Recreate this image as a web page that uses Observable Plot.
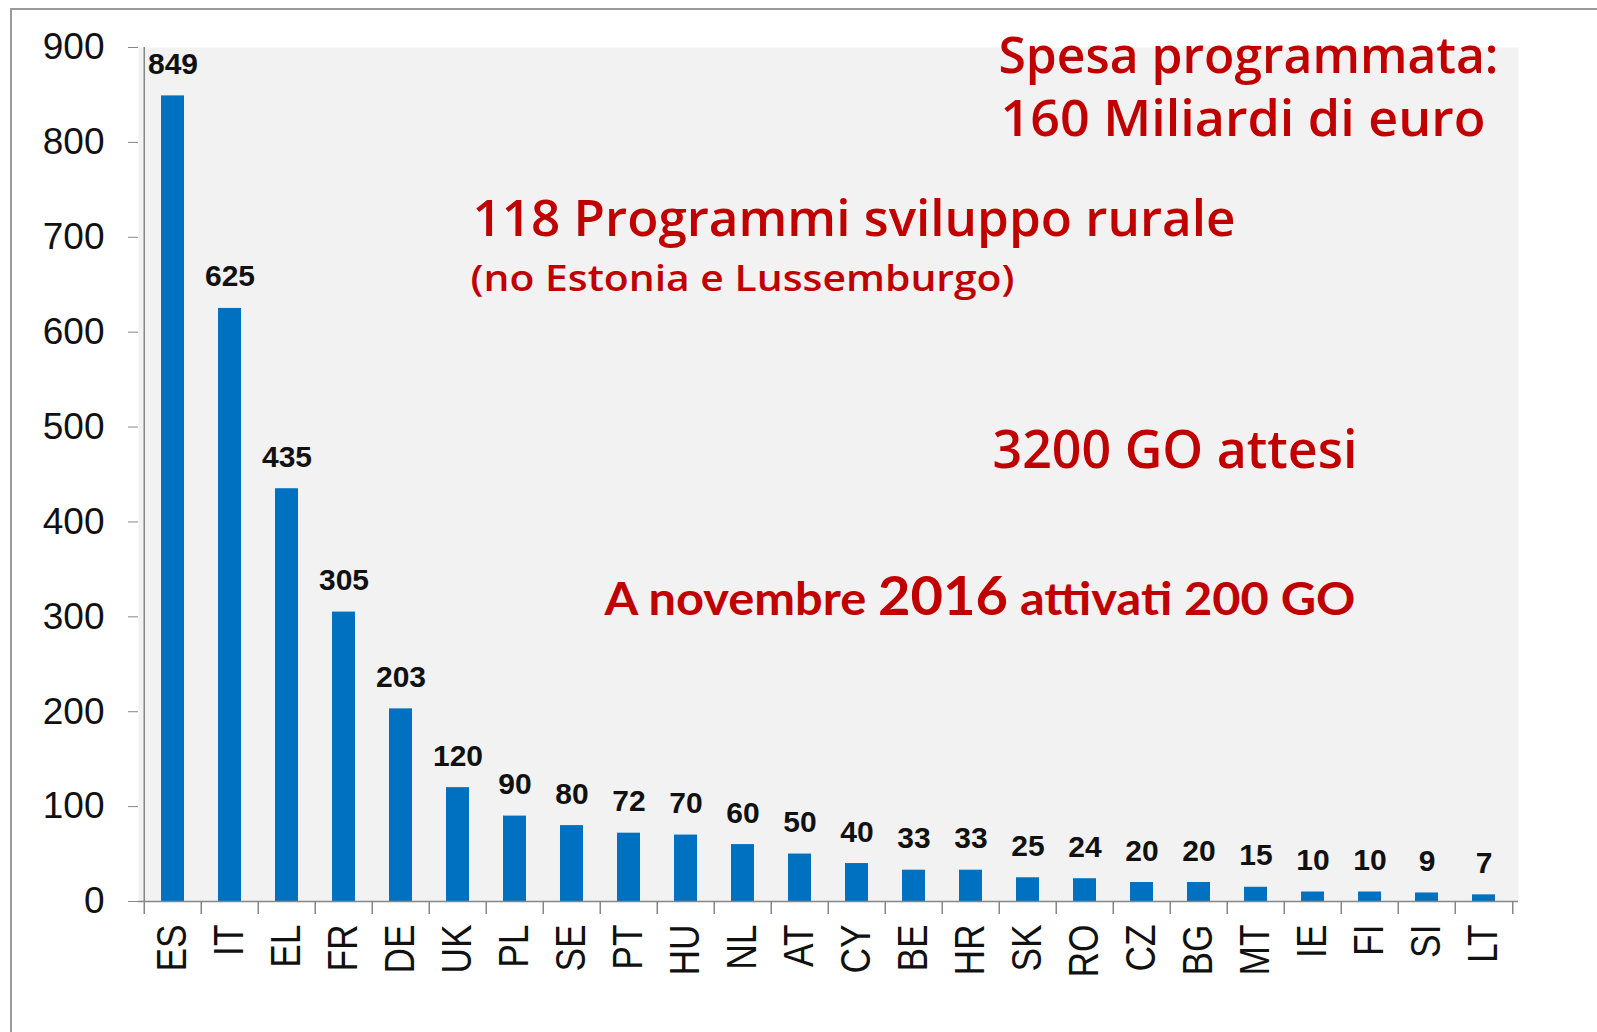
<!DOCTYPE html>
<html><head><meta charset="utf-8">
<script src="https://cdn.jsdelivr.net/npm/d3@7"></script>
<script src="https://cdn.jsdelivr.net/npm/@observablehq/plot@0.6"></script>
<style>
html,body{margin:0;padding:0;background:#fff;}
#wrap{position:relative;width:1597px;height:1032px;overflow:hidden;background:#fff;}
#border{position:absolute;left:10px;top:8px;width:1600px;height:1100px;border-top:2px solid #9a9a9a;border-left:2px solid #9a9a9a;pointer-events:none;}
svg{display:block;}
</style></head><body>
<div id="wrap"><div id="border"></div></div>
<script>
// ---- data ----
const countries = ["ES","IT","EL","FR","DE","UK","PL","SE","PT","HU","NL","AT","CY","BE","HR","SK","RO","CZ","BG","MT","IE","FI","SI","LT"];
const values = [849,625,435,305,203,120,90,80,72,70,60,50,40,33,33,25,24,20,20,15,10,10,9,7];
const yTicks = [0,100,200,300,400,500,600,700,800,900];
const noteLines = ["Spesa programmata:","160 Miliardi di euro","118 Programmi sviluppo rurale","(no Estonia e Lussemburgo)","3200 GO attesi","A novembre 2016 attivati 200 GO"];
const notePieces = ["A novembre ","2016"," attivati 200 GO"];

const data = countries.map((c,i)=>({country:c, value:values[i]}));

// ---- layout ----
const W=1597, H=1032, mL=138, mR=79, mT=47, mB=131;
const step = (W-mL-mR)/countries.length;
const red = "#c00000";
const noteLayout = [
  {dx:860, dy:25, size:51, font:"'Open Sans', sans-serif", weight:600, w:500},
  {dx:862, dy:88, size:51, font:"'Open Sans', sans-serif", weight:600, w:485},
  {dx:334, dy:188, size:50, font:"'Open Sans', sans-serif", weight:600, w:763},
  {dx:332, dy:243, size:36, font:"'Open Sans', sans-serif", weight:600, w:544},
  {dx:854, dy:420, size:53, font:"'Open Sans', sans-serif", weight:600, w:365},
  {dx:466, dy:567, size:46, font:"Lato, sans-serif", weight:700, w:751}
];

const noteMarks = noteLines.map((t,i)=>{
  const L = noteLayout[i];
  return Plot.text([t], {text:d=>d, frameAnchor:"top-left", dx:L.dx, dy:L.dy, textAnchor:"start", lineAnchor:"bottom",
    fontSize:L.size, fontFamily:L.font, fontWeight:L.weight, fill:red});
});

const chart = Plot.plot({
  width:W, height:H, marginLeft:mL, marginRight:mR, marginTop:mT, marginBottom:mB,
  style:{background:"transparent", fontFamily:"'Liberation Sans', Arial, sans-serif", color:"#000", overflow:"visible"},
  x:{domain:countries, paddingInner:0.6, paddingOuter:0.3, label:null},
  y:{domain:[0,900], label:null},
  marks:[
    Plot.frame({fill:"#f2f2f2", stroke:null}),
    Plot.barY(data,{x:"country", y:"value", fill:"#0070c0"}),
    Plot.text(data,{x:"country", y:"value", text:d=>String(d.value), lineAnchor:"bottom", dy:-22,
      fontSize:30, fontWeight:"bold", fill:"#111", fontFamily:"'Liberation Sans', Arial, sans-serif"}),
    // axis lines
    Plot.ruleY([0], {stroke:"#868686", strokeWidth:1.5}),
    Plot.ruleX([countries[0]], {dx:-step/2, y1:0, y2:900, stroke:"#868686", strokeWidth:1.5}),
    // boundary ticks on x
    Plot.ruleX(countries, {dx:-step/2, y1:0, y2:0, insetTop:0, insetBottom:-13, stroke:"#868686", strokeWidth:1.5}),
    Plot.ruleX([countries[countries.length-1]], {dx:step/2, y1:0, y2:0, insetTop:0, insetBottom:-13, stroke:"#868686", strokeWidth:1.5}),
    Plot.axisY({ticks:yTicks, tickSize:10, tickPadding:24, fontSize:37, stroke:"#868686", fill:"#111", label:null}),
    Plot.axisX({tickSize:0, tickRotate:-90, tickPadding:23, fontSize:38, fill:"#111", label:null}),
    ...noteMarks
  ]
});

document.getElementById("wrap").prepend(chart);
const svg = d3.select(chart);

// stretch x tick labels like the original
svg.selectAll("g[aria-label='x-axis tick label'] text").each(function(){
  const t = this.getAttribute("transform") || "";
  this.setAttribute("transform", t + " scale(0.93,1.1)");
});

// annotation fitting
svg.selectAll("text").each(function(){
  const idx = noteLines.indexOf(this.textContent);
  if (idx < 0) return;
  const L = noteLayout[idx];
  if (idx === 5) {
    const el = d3.select(this);
    el.text(null);
    const sizes = [L.size, L.size*1.15, L.size];
    notePieces.forEach((p,j)=>{ el.append("tspan").attr("font-size", sizes[j]).text(p); });
  }
  this.setAttribute("textLength", L.w);
  this.setAttribute("lengthAdjust", "spacingAndGlyphs");
});
</script>
</body></html>
